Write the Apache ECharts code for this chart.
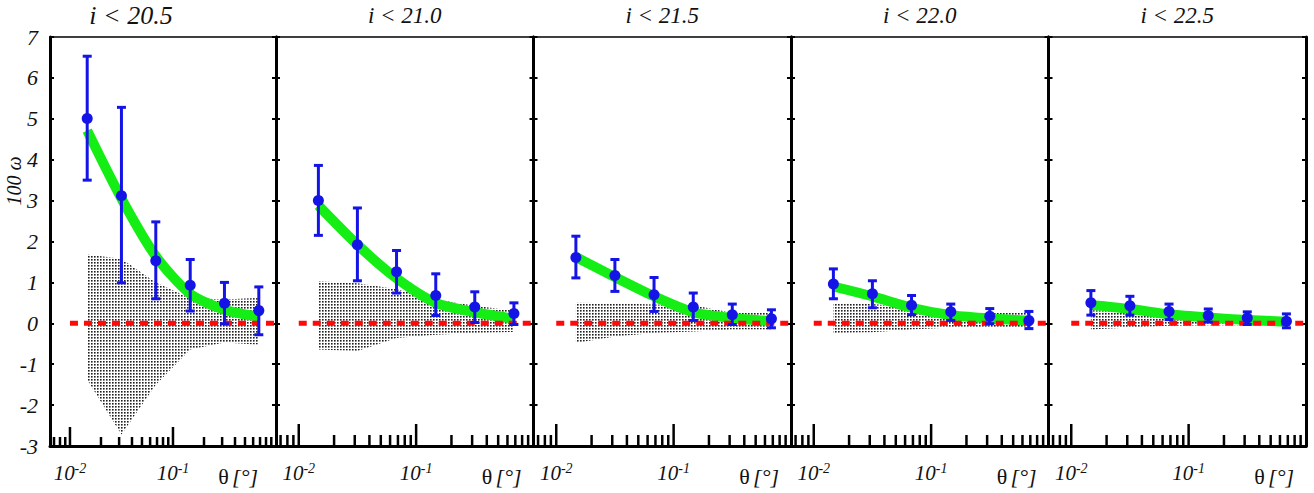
<!DOCTYPE html>
<html><head><meta charset="utf-8">
<script src="https://cdn.jsdelivr.net/npm/echarts@6/dist/echarts.min.js"></script>
<style>html,body{margin:0;padding:0;background:#fff}#c{width:1314px;height:493px}</style>
</head><body><div id="c"></div>
<script>
// ---------- data ----------
const thetaDeg = [0.0147, 0.0316, 0.0681, 0.147, 0.316, 0.681];
const panelTitles = ['i < 20.5', 'i < 21.0', 'i < 21.5', 'i < 22.0', 'i < 22.5'];
const yTickLabels = [-3, -2, -1, 0, 1, 2, 3, 4, 5, 6, 7];
const xTickValues = [0.007, 0.008, 0.009, 0.01, 0.02, 0.03, 0.04, 0.05, 0.06, 0.07, 0.08, 0.09,
                     0.1, 0.2, 0.3, 0.4, 0.5, 0.6, 0.7, 0.8, 0.9];
const xMajorTicks = [0.01, 0.1];

const wPanel1 = [5.01, 3.12, 1.53, 0.93, 0.49, 0.31];
const wPanel2 = [3.00, 1.92, 1.26, 0.68, 0.40, 0.24];
const wPanel3 = [1.61, 1.17, 0.70, 0.40, 0.21, 0.11];
const wPanel4 = [0.96, 0.72, 0.44, 0.28, 0.17, 0.07];
const wPanel5 = [0.50, 0.43, 0.29, 0.19, 0.13, 0.05];

const errLo1 = [3.50, 0.99, 0.60, 0.30, -0.01, -0.28];
const errHi1 = [6.53, 5.28, 2.48, 1.56, 1.00, 0.89];
const errLo2 = [2.15, 1.04, 0.74, 0.19, 0.02, -0.03];
const errHi2 = [3.86, 2.82, 1.78, 1.21, 0.77, 0.50];
const errLo3 = [1.11, 0.78, 0.29, 0.07, -0.03, -0.11];
const errHi3 = [2.13, 1.56, 1.12, 0.74, 0.47, 0.33];
const errLo4 = [0.60, 0.38, 0.21, 0.07, -0.01, -0.13];
const errHi4 = [1.33, 1.04, 0.68, 0.47, 0.36, 0.29];
const errLo5 = [0.20, 0.20, 0.09, 0.03, -0.03, -0.11];
const errHi5 = [0.80, 0.66, 0.47, 0.35, 0.28, 0.23];

const model1 = [4.71, 3.05, 1.64, 0.72, 0.33, 0.16];
const model2 = [2.88, 1.92, 1.10, 0.50, 0.27, 0.11];
const model3 = [1.62, 1.13, 0.66, 0.27, 0.13, 0.05];
const model4 = [0.90, 0.66, 0.38, 0.20, 0.12, 0.06];
const model5 = [0.45, 0.35, 0.22, 0.14, 0.08, 0.04];

const bandHi1 = [1.68, 1.58, 1.00, 0.62, 0.58, 0.62];
const bandLo1 = [-1.38, -2.72, -1.50, -0.64, -0.47, -0.52];
const bandHi2 = [1.03, 0.98, 0.84, 0.58, 0.43, 0.31];
const bandLo2 = [-0.64, -0.68, -0.36, -0.28, -0.24, -0.21];
const bandHi3 = [0.50, 0.49, 0.46, 0.44, 0.26, 0.25];
const bandLo3 = [-0.48, -0.32, -0.24, -0.20, -0.15, -0.15];
const bandHi4 = [0.48, 0.47, 0.38, 0.25, 0.25, 0.25];
const bandLo4 = [-0.24, -0.22, -0.15, -0.10, -0.10, -0.10];
const bandHi5 = [0.32, 0.30, 0.22, 0.20, 0.18, 0.15];
const bandLo5 = [-0.15, -0.10, -0.06, -0.05, -0.05, -0.05];

const zeroLine = [[0.01, 0], [1, 0]];

const W = [wPanel1, wPanel2, wPanel3, wPanel4, wPanel5];
const LO = [errLo1, errLo2, errLo3, errLo4, errLo5];
const HI = [errHi1, errHi2, errHi3, errHi4, errHi5];
const MODEL = [model1, model2, model3, model4, model5];
const BHI = [bandHi1, bandHi2, bandHi3, bandHi4, bandHi5];
const BLO = [bandLo1, bandLo2, bandLo3, bandLo4, bandLo5];

// ---------- styling ----------
const SERIF = "'Liberation Serif','DejaVu Serif','Times New Roman',serif";
const BLUE = '#1414e6';
const GREEN = '#14ee14';
const RED = '#ff0a0a';
const XMIN = 0.0064, XMAX = 1.0, YMIN = -3, YMAX = 7;
const TOP = 37, HEIGHT = 409;

const pc = document.createElement('canvas');
pc.width = 3; pc.height = 3;
const pctx = pc.getContext('2d');
pctx.fillStyle = '#fff'; pctx.fillRect(0, 0, 3, 3);
pctx.fillStyle = '#1e1e1e'; pctx.fillRect(1, 1, 1, 1);
pctx.fillStyle = '#777'; pctx.fillRect(2, 1, 1, 1); pctx.fillRect(1, 2, 1, 1);
pctx.fillStyle = '#b0b0b0'; pctx.fillRect(2, 2, 1, 1);
const dotPattern = { image: pc.toDataURL(), repeat: 'repeat', imageWidth: 3, imageHeight: 3 };

const panels = [];
for (let k = 0; k < 5; k++) {
  const left = k === 0 ? 50 : 276 + (k - 1) * 257.5;
  const width = k === 0 ? 226 : 257.5;
  panels.push({ left, width });
}

const grids = [], xAxes = [], yAxes = [], series = [], graphics = [];
const isMajor = v => xMajorTicks.some(m => Math.abs(m - v) < 1e-9);

panels.forEach((p, k) => {
  grids.push({ left: p.left, top: TOP, width: p.width, height: HEIGHT, containLabel: false });
  const xi = xAxes.length, yi = yAxes.length;
  xAxes.push({
    gridIndex: k, type: 'log', logBase: 10, min: XMIN, max: XMAX, position: 'bottom',
    axisLine: { onZero: false, lineStyle: { color: '#000', width: 3 } },
    axisTick: { show: false }, splitLine: { show: false },
    axisLabel: {
      margin: 15, showMinLabel: true, showMaxLabel: true,
      formatter: v => {
        const l = Math.log10(v);
        if (Math.abs(l + 2) < 1e-6) return '{a|10}{b|-2}';
        if (Math.abs(l + 1) < 1e-6) return '{a|10}{b|-1}';
        return '';
      },
      rich: {
        a: { fontFamily: SERIF, fontStyle: 'italic', fontSize: 21, color: '#111' },
        b: { fontFamily: SERIF, fontStyle: 'italic', fontSize: 14, color: '#111', padding: [0, 0, 9, 0] }
      }
    }
  });
  xAxes.push({
    gridIndex: k, type: 'log', logBase: 10, min: XMIN, max: XMAX, position: 'top',
    axisLine: { onZero: false, lineStyle: { color: '#000', width: 1.5 } },
    axisTick: { show: false }, axisLabel: { show: false }, splitLine: { show: false }
  });
  yAxes.push({
    gridIndex: k, type: 'value', min: YMIN, max: YMAX, interval: 1, position: 'left',
    axisLine: { show: true, onZero: false, lineStyle: { color: '#000', width: 3 } },
    axisTick: { show: true, inside: true, length: 4, lineStyle: { color: '#000', width: 2 } },
    splitLine: { show: false },
    axisLabel: {
      show: k === 0, margin: 12, fontFamily: SERIF, fontStyle: 'italic', fontSize: 22, color: '#111',
      formatter: v => (yTickLabels.indexOf(v) >= 0 ? String(v) : '')
    }
  });
  yAxes.push({
    gridIndex: k, type: 'value', min: YMIN, max: YMAX, interval: 1, position: 'right',
    axisLine: { show: true, onZero: false, lineStyle: { color: '#000', width: 3 } },
    axisTick: { show: true, inside: true, length: 4, lineStyle: { color: '#000', width: 2 } },
    splitLine: { show: false }, axisLabel: { show: false }
  });

  const band = thetaDeg.map((t, i) => [t, BLO[k][i], BHI[k][i]]);
  series.push({
    type: 'custom', xAxisIndex: xi, yAxisIndex: yi, z: 1, silent: true, clip: false,
    data: band,
    renderItem: (params, api) => {
      if (params.dataIndex !== 0) return null;
      const upper = band.map(r => api.coord([r[0], r[2]]));
      const lower = band.slice().reverse().map(r => api.coord([r[0], r[1]]));
      return { type: 'polygon', shape: { points: upper.concat(lower) }, style: { fill: dotPattern, stroke: null } };
    }
  });
  series.push({
    type: 'line', xAxisIndex: xi, yAxisIndex: yi, z: 2, silent: true, symbol: 'none', smooth: 0.25,
    data: thetaDeg.map((t, i) => [t, MODEL[k][i]]),
    lineStyle: { color: GREEN, width: 10, cap: 'butt' }
  });
  series.push({
    type: 'line', xAxisIndex: xi, yAxisIndex: yi, z: 3, silent: true, symbol: 'none',
    data: zeroLine,
    lineStyle: { color: RED, width: 5, type: [8, 6], cap: 'butt' }
  });
  series.push({
    type: 'custom', xAxisIndex: xi, yAxisIndex: yi, z: 4, silent: true, clip: false,
    data: thetaDeg.map((t, i) => [t, LO[k][i], HI[k][i]]),
    renderItem: (params, api) => {
      const lo = api.coord([api.value(0), api.value(1)]);
      const hi = api.coord([api.value(0), api.value(2)]);
      const st = { stroke: BLUE, lineWidth: 3 };
      return { type: 'group', children: [
        { type: 'line', shape: { x1: lo[0], y1: lo[1], x2: hi[0], y2: hi[1] }, style: st },
        { type: 'line', shape: { x1: lo[0] - 4.5, y1: lo[1], x2: lo[0] + 4.5, y2: lo[1] }, style: st },
        { type: 'line', shape: { x1: hi[0] - 4.5, y1: hi[1], x2: hi[0] + 4.5, y2: hi[1] }, style: st }
      ] };
    }
  });
  series.push({
    type: 'scatter', xAxisIndex: xi, yAxisIndex: yi, z: 5, silent: true, symbol: 'circle', symbolSize: 11,
    data: thetaDeg.map((t, i) => [t, W[k][i]]),
    itemStyle: { color: BLUE, opacity: 1 }
  });
  const majorLen = k === 0 ? 19 : 22, minorLen = k === 0 ? 9 : 11;
  series.push({
    type: 'custom', xAxisIndex: xi, yAxisIndex: yi, z: 6, silent: true, clip: false,
    data: xTickValues.map(v => [v, isMajor(v) ? 1 : 0]),
    renderItem: (params, api) => {
      const b = api.coord([api.value(0), YMIN]);
      const len = api.value(1) ? majorLen : minorLen;
      return { type: 'line', shape: { x1: b[0], y1: b[1], x2: b[0], y2: b[1] - len },
               style: { stroke: '#000', lineWidth: 2.5 } };
    }
  });

  // panel title
  const cx = k === 0 ? 131 : p.left + p.width / 2;
  graphics.push({
    type: 'text', x: cx, y: 15, silent: true,
    style: { text: panelTitles[k], fontFamily: SERIF, fontStyle: 'italic', fontSize: k === 0 ? 26 : 23,
             fill: '#111', align: 'center', verticalAlign: 'middle' }
  });
  // axis name theta
  graphics.push({
    type: 'text', x: p.left + p.width - (k === 0 ? 18 : 12), y: 476, silent: true,
    style: {
      text: '{t|θ} {u|[°]}', align: 'right', verticalAlign: 'middle',
      rich: {
        t: { fontFamily: SERIF, fontSize: 22, fill: '#111' },
        u: { fontFamily: SERIF, fontStyle: 'italic', fontSize: 22, fill: '#111' }
      }
    }
  });
});

graphics.push({
  type: 'text', x: 14, y: 181, rotation: Math.PI / 2, silent: true,
  style: { text: '100 ω', fontFamily: SERIF, fontStyle: 'italic', fontSize: 20, fill: '#111',
           align: 'center', verticalAlign: 'middle' }
});

const chart = echarts.init(document.getElementById('c'), null, { renderer: 'svg' });
chart.setOption({
  animation: false,
  backgroundColor: '#fff',
  grid: grids, xAxis: xAxes, yAxis: yAxes, series: series, graphic: graphics
});
</script>
</body></html>
